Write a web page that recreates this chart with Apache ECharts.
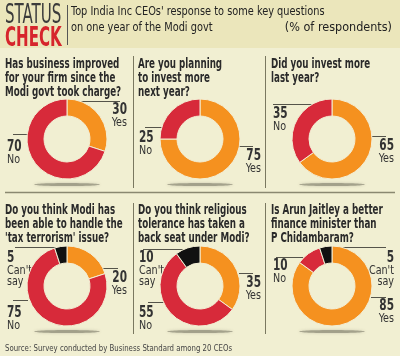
<!DOCTYPE html>
<html><head><meta charset="utf-8">
<script src="https://cdn.jsdelivr.net/npm/echarts@6/dist/echarts.min.js"></script>
<style>html,body{margin:0;padding:0;background:#f1efd2}#c{width:400px;height:356px}</style>
</head><body><div id="c"></div>
<script>
// ---- data ----
var questions = [
  ["Has business improved", "for your firm since the", "Modi govt took charge?"],
  ["Are you planning", "to invest more", "next year?"],
  ["Did you invest more", "last year?"],
  ["Do you think Modi has", "been able to handle the", "'tax terrorism' issue?"],
  ["Do you think religious", "tolerance has taken a", "back seat under Modi?"],
  ["Is Arun Jaitley a better", "finance minister than", "P Chidambaram?"]
];
var yesValues = [30, 75, 65, 20, 35, 85];
var noValues = [70, 25, 35, 75, 55, 10];
var cantSayValues = [0, 0, 0, 5, 10, 5];
var answerNames = ["Yes", "No", "Can't say"];
var titleLines = ["Top India Inc CEOs' response to some key questions", "on one year of the Modi govt"];
var unitNote = "(% of respondents)";
var sourceNote = "Source: Survey conducted by Business Standard among 20 CEOs";

// ---- layout / style ----
var COL = {yes: '#f5911f', no: '#d72a3a', cs: '#111111', bg: '#f1efd2', head: '#ebe6bb', line: '#6e6c55', text: '#2a2a2a'};
var FONT = "'Liberation Sans Narrow','DejaVu Sans Condensed','Liberation Sans',sans-serif";
var centers = [[67,139],[200,139],[332,139],[67,286],[200,286],[332,286]];
var qPos = [[5,57],[138,57],[271,57],[5,203],[138,203],[271,203]];
var valueArrays = {yes: yesValues, no: noValues, cs: cantSayValues};
var nameOf = {yes: answerNames[0], no: answerNames[1], cs: answerNames[2]};
// annotation anchors: panel, key, leader line [x1,x2,y], text x, text top, align
var ann = [
  [0,'yes',[67,120,101],127,103,'right'], [0,'no',[13,28,134],7,140,'left'],
  [1,'no',[145,163,127],139,131,'left'], [1,'yes',[239,253,146],261,149,'right'],
  [2,'no',[273,329,104],273,107,'left'], [2,'yes',[372,386,136],394,139,'right'],
  [3,'cs',[15,63,247],7,251,'left'], [3,'yes',[102,118,268],127,271,'right'], [3,'no',[13,28,300],7,306,'left'],
  [4,'cs',[143,183,249],139,251,'left'], [4,'yes',[239,253,273],261,276,'right'], [4,'no',[148,165,302],139,306,'left'],
  [5,'no',[276,303,257],273,259,'left'], [5,'cs',[333,386,247],394,251,'right'], [5,'yes',[371,386,297],394,299,'right']
];

var series = [];
for (var i = 0; i < 6; i++) {
  var d = [
    {name: answerNames[0], value: yesValues[i], itemStyle: {color: COL.yes}},
    {name: answerNames[1], value: noValues[i], itemStyle: {color: COL.no}}
  ];
  if (cantSayValues[i] > 0) d.push({name: answerNames[2], value: cantSayValues[i], itemStyle: {color: COL.cs}});
  series.push({
    type: 'pie', center: centers[i], radius: [23, 40], startAngle: 90, clockwise: true,
    label: {show: false}, labelLine: {show: false}, silent: true, animation: false,
    itemStyle: {borderColor: '#f3eed4', borderWidth: 1},
    data: d
  });
}

var g = [];
// header band
g.push({type: 'rect', shape: {x: 0, y: 0, width: 400, height: 48}, style: {fill: COL.head}, z: -10});
g.push({type: 'text', x: 5, y: 2, scaleX: 0.62, style: {text: 'STATUS', font: "27px " + FONT, fill: '#3b3b3b'}});
g.push({type: 'text', x: 5, y: 25, scaleX: 0.62, style: {text: 'CHECK', font: "bold 27px " + FONT, fill: '#d6252c'}});
g.push({type: 'line', shape: {x1: 67.5, y1: 5, x2: 67.5, y2: 45}, style: {stroke: '#555', lineWidth: 1}});
g.push({type: 'text', x: 71, y: 5, scaleX: 0.87, style: {text: titleLines[0], font: "12.5px " + FONT, fill: '#222'}});
g.push({type: 'text', x: 71, y: 21, scaleX: 0.87, style: {text: titleLines[1], font: "12.5px " + FONT, fill: '#222'}});
g.push({type: 'text', x: 392, y: 21, style: {text: unitNote, font: "12.5px " + FONT, fill: '#222', align: 'right'}});
// separators
g.push({type: 'line', shape: {x1: 5, y1: 192.5, x2: 395, y2: 192.5}, style: {stroke: '#8a8870', lineWidth: 1.5}});
[133.5, 265.5].forEach(function (x) {
  g.push({type: 'line', shape: {x1: x, y1: 56, x2: x, y2: 188}, style: {stroke: '#7a7860', lineWidth: 1}});
  g.push({type: 'line', shape: {x1: x, y1: 203, x2: x, y2: 334}, style: {stroke: '#7a7860', lineWidth: 1}});
});
// questions and shadows
for (var i = 0; i < 6; i++) {
  questions[i].forEach(function (t, j) {
    g.push({type: 'text', x: qPos[i][0], y: qPos[i][1] + j * 14.3, scaleX: 0.72, style: {text: t, font: "bold 13.5px " + FONT, fill: COL.text}});
  });
  g.push({type: 'ellipse', shape: {cx: centers[i][0], cy: centers[i][1] + 45.5, rx: 33, ry: 1.6},
    style: {fill: 'rgba(120,118,100,0.55)', shadowBlur: 3, shadowColor: 'rgba(120,118,100,0.6)'}, z: -1});
}
// annotations
ann.forEach(function (a) {
  var p = a[0], k = a[1], L = a[2];
  g.push({type: 'line', shape: {x1: L[0], y1: L[2] + 0.5, x2: L[1], y2: L[2] + 0.5}, style: {stroke: '#55544a', lineWidth: 1}});
  g.push({type: 'text', x: a[3], y: a[4], scaleX: 0.78, style: {text: String(valueArrays[k][p]), font: "bold 15px " + FONT, fill: '#333', align: a[5]}});
  var words = k === 'cs' ? ["Can't", "say"] : [nameOf[k]];
  words.forEach(function (w, j) {
    g.push({type: 'text', x: a[3], y: a[4] + 13 + j * 11.5, scaleX: 0.82, style: {text: w, font: "13px " + FONT, fill: '#333', align: a[5]}});
  });
});
g.push({type: 'text', x: 5, y: 344, scaleX: 0.86, style: {text: sourceNote, font: "9px " + FONT, fill: '#444'}});

var chart = echarts.init(document.getElementById('c'), null, {renderer: 'canvas'});
chart.setOption({backgroundColor: COL.bg, animation: false, series: series, graphic: {elements: g}});
</script></body></html>
